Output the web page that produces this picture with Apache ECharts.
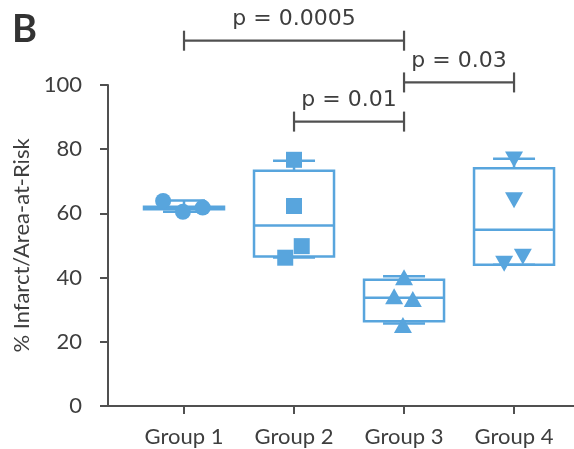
<!DOCTYPE html>
<html><head><meta charset="utf-8">
<script src="https://cdn.jsdelivr.net/npm/echarts@6/dist/echarts.min.js"></script>
<style>html,body{margin:0;padding:0;background:#fff}#c{width:574px;height:449px}</style>
</head><body><div id="c"></div>
<script>
// Categories and tick labels
const categories = ['Group 1', 'Group 2', 'Group 3', 'Group 4'];
const yTicks = [0, 20, 40, 60, 80, 100];

// Individual points (x position within group, value)
const g1X = [0.81, 0.99, 1.17];
const g1Y = [63.9, 60.5, 61.8];
const g2X = [2.0, 2.0, 2.07, 1.92];
const g2Y = [76.7, 62.3, 49.8, 46.2];
const g3X = [3.0, 2.91, 3.08, 2.99];
const g3Y = [40.1, 34.2, 33.3, 25.2];
const g4X = [4.0, 4.0, 4.08, 3.91];
const g4Y = [76.8, 64.1, 46.5, 44.3];

// Box summaries: min, q1, median, q3, max
const boxMin = [60.5, 46.3, 25.7, 44.0];
const boxQ1  = [61.3, 46.6, 26.4, 44.0];
const boxMed = [61.7, 56.2, 33.7, 54.9];
const boxQ3  = [62.1, 73.3, 39.3, 74.1];
const boxMax = [64.0, 76.4, 40.4, 77.0];

// Significance brackets
const bracketFrom = [1, 3, 2];
const bracketTo = [3, 4, 3];
const bracketLevel = [113.8, 100.8, 88.6];
const bracketLabels = ['p = 0.0005', 'p = 0.03', 'p = 0.01'];

const BLUE = '#58a5dd';
const AXIS = '#505050';
const TEXT = '#3e3e3e';
const FONT = 'Lato, "Open Sans", sans-serif';
const PFONT = '"DejaVu Sans", sans-serif';

const chart = echarts.init(document.getElementById('c'), null, {renderer: 'canvas'});

const boxData = categories.map((c, i) => [i + 1, boxMin[i], boxQ1[i], boxMed[i], boxQ3[i], boxMax[i]]);
const bracketData = bracketFrom.map((f, i) => [f, bracketTo[i], bracketLevel[i], i]);

function renderBox(params, api) {
  const x = api.value(0);
  const pMin = api.coord([x, api.value(1)]);
  const pQ1 = api.coord([x, api.value(2)]);
  const pMed = api.coord([x, api.value(3)]);
  const pQ3 = api.coord([x, api.value(4)]);
  const pMax = api.coord([x, api.value(5)]);
  const half = 40, cap = 21;
  const st = {stroke: BLUE, lineWidth: 2.5, fill: null};
  const cx = pMed[0];
  return {type: 'group', children: [
    {type: 'rect', shape: {x: cx - half, y: pQ3[1], width: half * 2, height: Math.max(pQ1[1] - pQ3[1], 0.5)}, style: st},
    {type: 'line', shape: {x1: cx - half, y1: pMed[1], x2: cx + half, y2: pMed[1]}, style: st},
    {type: 'line', shape: {x1: cx, y1: pQ3[1], x2: cx, y2: pMax[1]}, style: st},
    {type: 'line', shape: {x1: cx, y1: pQ1[1], x2: cx, y2: pMin[1]}, style: st},
    {type: 'line', shape: {x1: cx - cap, y1: pMax[1], x2: cx + cap, y2: pMax[1]}, style: st},
    {type: 'line', shape: {x1: cx - cap, y1: pMin[1], x2: cx + cap, y2: pMin[1]}, style: st}
  ]};
}

function renderBracket(params, api) {
  const a = api.coord([api.value(0), api.value(2)]);
  const b = api.coord([api.value(1), api.value(2)]);
  const label = bracketLabels[api.value(3)];
  const st = {stroke: AXIS, lineWidth: 2.2};
  const h = 10;
  return {type: 'group', children: [
    {type: 'line', shape: {x1: a[0], y1: a[1], x2: b[0], y2: b[1]}, style: st},
    {type: 'line', shape: {x1: a[0], y1: a[1] - h, x2: a[0], y2: a[1] + h}, style: st},
    {type: 'line', shape: {x1: b[0], y1: b[1] - h, x2: b[0], y2: b[1] + h}, style: st},
    {type: 'text', style: {text: label, x: (a[0] + b[0]) / 2, y: a[1] - 21, align: 'center', verticalAlign: 'middle',
      fontSize: 22, fontFamily: PFONT, fill: TEXT}}
  ]};
}

const pt = (xs, ys) => xs.map((x, i) => [x, ys[i]]);

chart.setOption({
  animation: false,
  backgroundColor: '#fff',
  title: {text: 'B', left: 7, top: 6, textStyle: {fontSize: 38, fontWeight: 'bold', color: '#333', fontFamily: FONT}},
  grid: {left: 108, right: 0, top: 85, bottom: 43},
  xAxis: {
    type: 'value', min: 0.309, max: 4.545,
    splitLine: {show: false},
    axisLine: {show: true, lineStyle: {color: AXIS, width: 2}},
    axisTick: {show: true, length: 8, customValues: [1, 2, 3, 4], lineStyle: {color: AXIS, width: 2}},
    axisLabel: {show: true, customValues: [1, 2, 3, 4], margin: 20, fontSize: 22, color: TEXT, fontFamily: FONT,
      formatter: v => categories[Math.round(v) - 1] || ''}
  },
  yAxis: {
    type: 'value', min: 0, max: 100, interval: 20,
    name: '% Infarct/Area-at-Risk', nameLocation: 'middle', nameGap: 66, nameRotate: 90,
    nameTextStyle: {fontSize: 22, color: TEXT, fontFamily: FONT},
    splitLine: {show: false},
    axisLine: {show: true, lineStyle: {color: AXIS, width: 2}},
    axisTick: {show: true, length: 8, lineStyle: {color: AXIS, width: 2}},
    axisLabel: {margin: 26, fontSize: 22, color: TEXT, fontFamily: FONT,
      formatter: v => yTicks.includes(v) ? String(v) : ''}
  },
  series: [
    {type: 'custom', renderItem: renderBox, data: boxData, z: 2, clip: false},
    {type: 'scatter', data: pt(g1X, g1Y), symbol: 'circle', symbolSize: 16, itemStyle: {color: BLUE, opacity: 1}, z: 3},
    {type: 'scatter', data: pt(g2X, g2Y), symbol: 'rect', symbolSize: 16, itemStyle: {color: BLUE, opacity: 1}, z: 3},
    {type: 'scatter', data: pt(g3X, g3Y), symbol: 'triangle', symbolSize: [18, 16], itemStyle: {color: BLUE, opacity: 1}, z: 3},
    {type: 'scatter', data: pt(g4X, g4Y), symbol: 'triangle', symbolRotate: 180, symbolSize: [18, 16], itemStyle: {color: BLUE, opacity: 1}, z: 3},
    {type: 'custom', renderItem: renderBracket, data: bracketData, z: 4, clip: false}
  ]
});
</script></body></html>
